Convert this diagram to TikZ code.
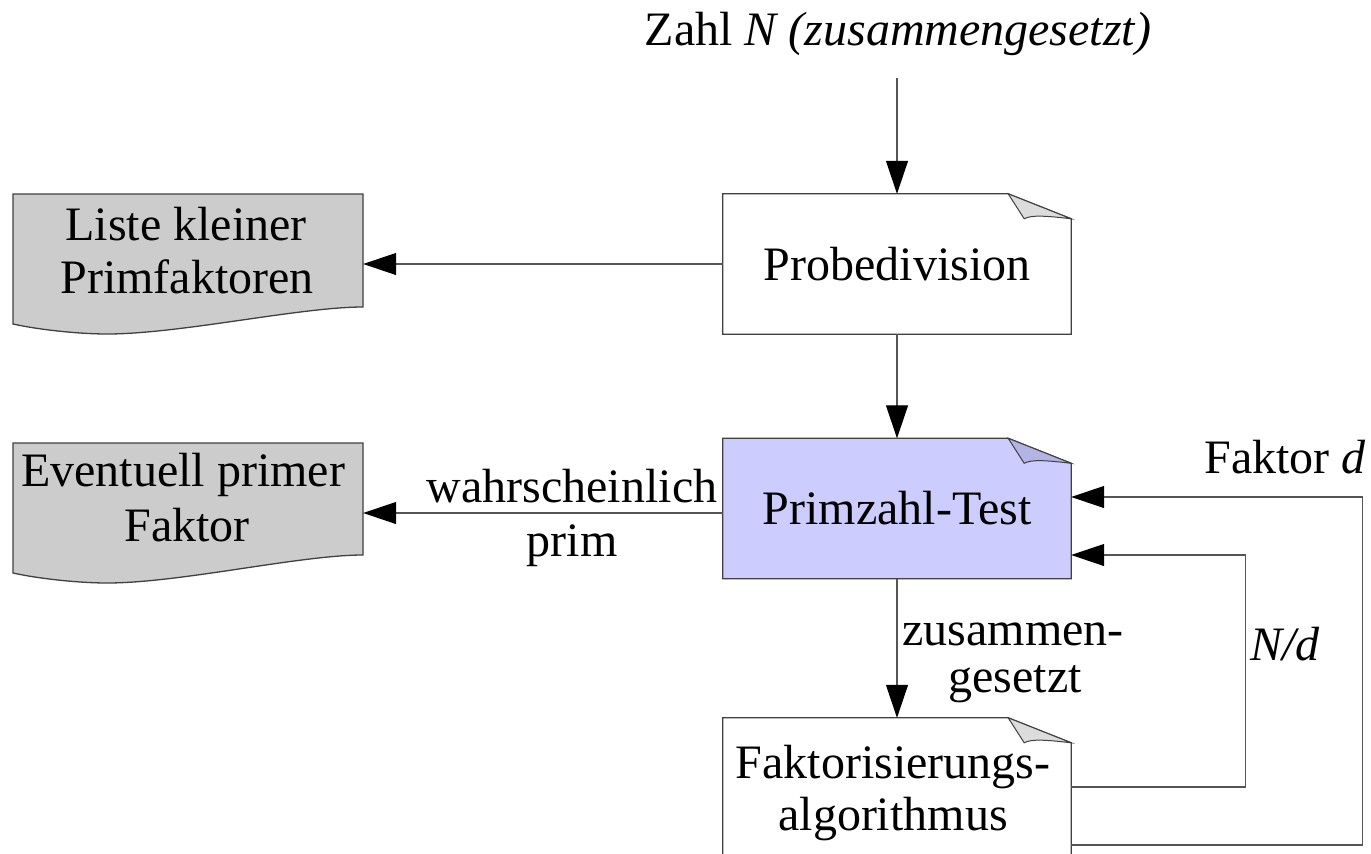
\documentclass[tikz,border=0pt]{standalone}
\usepackage{fontspec}
\setmainfont{Liberation Serif}
\usetikzlibrary{arrows.meta}
\definecolor{lav}{HTML}{CCCCFF}
\definecolor{lavfold}{HTML}{B3B3E6}
\definecolor{graybox}{HTML}{CCCCCC}
\definecolor{wfold}{HTML}{DCDCDC}
\definecolor{edge}{HTML}{404040}
\definecolor{conncol}{HTML}{555555}
\pgfdeclarelayer{bg}
\pgfsetlayers{bg,main}
\tikzset{
  txt/.style={font=\fontsize{48}{54}\selectfont, inner sep=0pt, anchor=base},
  boxgeom/.style={rectangle, draw=none, minimum width=348pt, minimum height=140pt, inner sep=0pt, font=\fontsize{48}{54}\selectfont},
  wavegeom/.style={rectangle, draw=none, minimum width=350pt, minimum height=140pt, inner sep=0pt},
  outline/.style={draw=edge, line width=1.3pt, line join=miter},
  conn/.style={draw=conncol, line width=1.2pt},
  arr/.style={conn, -{Triangle[length=33pt,width=22pt,color=black]}},
}
\newcommand{\foldbox}[3]{%
  \draw[outline, fill=#2] (#1.north west) -- ([xshift=-63pt]#1.north east) -- ([yshift=-25pt]#1.north east) -- (#1.south east) -- (#1.south west) -- cycle;
  \draw[outline, fill=#3, line width=1pt] ([xshift=-63pt]#1.north east) -- ([xshift=-47pt,yshift=-25pt]#1.north east) .. controls ([xshift=-40pt,yshift=-21pt]#1.north east) and ([xshift=-25pt,yshift=-22pt]#1.north east) .. ([yshift=-25pt]#1.north east) -- cycle;
}
\begin{document}
\begin{tikzpicture}[x=1pt,y=-1pt]
\useasboundingbox (0,0) rectangle (1371,854);

% main boxes
\node[boxgeom] (probe) at (897,264) {Probedivision};
\node[boxgeom] (prim) at (897,508.5) {Primzahl-Test};
\node[boxgeom] (fakt) at (897,788) {};
\node[txt] (fakt1) at (893,778) {Faktorisierungs-};
\node[txt] (fakt2) at (893,830) {algorithmus};

% output documents
\node[wavegeom] (liste) at (188,264) {};
\node[txt] (liste1) at (186,240) {Liste kleiner};
\node[txt] (liste2) at (187,293) {Primfaktoren};
\node[wavegeom] (evt) at (188,513) {};
\node[txt] (evt1) at (183,486) {Eventuell primer};
\node[txt] (evt2) at (187,541) {Faktor};

% title
\node[txt] (title) at (898,45) {Zahl \textit{N (zusammengesetzt)}};
\coordinate (in) at (897,78);

\begin{pgfonlayer}{bg}
  \foldbox{probe}{white}{wfold}
  \foldbox{prim}{lav}{lavfold}
  \foldbox{fakt}{white}{wfold}
  \begin{scope}[shift={(0,194)}]
    \draw[outline, fill=graybox] (13,0) -- (363,0) -- (363,113) .. controls (300,113) and (180,140) .. (107,140) .. controls (80,140) and (40,136) .. (13,130) -- cycle;
  \end{scope}
  \begin{scope}[shift={(0,443)}]
    \draw[outline, fill=graybox] (13,0) -- (363,0) -- (363,112) .. controls (300,112) and (180,140) .. (107,140) .. controls (80,140) and (40,136) .. (13,130) -- cycle;
  \end{scope}
\end{pgfonlayer}

% connectors
\draw[arr] (in) -- (probe.north);
\draw[arr] (probe.west) -- (liste.east);
\draw[arr] (probe.south) -- (prim.north);
\draw[arr] (evt.east -| prim.west) -- (evt.east);
\node[txt] (lab1) at (572,502) {wahrscheinlich};
\node[txt] (lab2) at (572,556) {prim};
\draw[arr] (prim.south) -- (fakt.north);
\node[txt] (lab3) at (1013,645) {zusammen-};
\node[txt] (lab4) at (1015,692) {gesetzt};
\draw[arr] ([yshift=1pt]fakt.east) -- ++(174,0) |- ([yshift=-46.5pt]prim.east);
\draw[arr] ([yshift=-57pt]fakt.east) -- ++(291,0) |- ([yshift=11.5pt]prim.east);
\node[txt, anchor=base west] (nd) at (1250,660) {\textit{N/d}};
\node[txt, anchor=base east] (fd) at (1366,473) {Faktor \textit{d}};
\end{tikzpicture}
\end{document}
